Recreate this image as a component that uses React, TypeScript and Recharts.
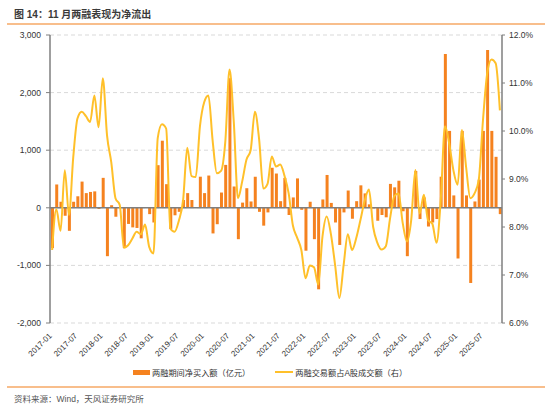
import {
  ComposedChart, Bar, Line, XAxis, YAxis, CartesianGrid, ReferenceLine,
} from 'recharts';

// Monthly categories 2017-01 .. 2025-11
const START_YEAR = 2017;
const MONTH_COUNT = 107;
const months: string[] = [];
for (let k = 0; k < MONTH_COUNT; k++) {
  const y = START_YEAR + Math.floor(k / 12);
  const m = (k % 12) + 1;
  months.push(`${y}-${m < 10 ? '0' + m : m}`);
}

// 两融期间净买入额（亿元）
const netBuy = [
  -700, 405, 105, -140, -400, 105, 200, 455, 255, 275, 285, -20,
  520, -840, 45, -155, 5, -700, -280, -340, -350, -530, 10, -110,
  -255, 740, 1165, 410, -370, -130, -70, 135, 255, 135, 5, 540,
  255, 560, -445, -285, 265, 745, 2250, 370, -545, 90, 340, 110,
  540, -70, -310, -80, 695, 595, 115, 520, -125, 180, 510, -35,
  -745, 105, -545, -1415, 145, 570, 85, -255, -645, -80, 300, -190,
  115, 390, 250, 60, -10, -225, -125, -165, 415, 355, 470, -60,
  -840, 10, 640, -195, 180, -325, -255, -195, 540, 2670, 1335, 215,
  -880, 1335, 215, -1305, 110, 490, 1335, 2740, 1335, 885, -110,
];

// 两融交易额占A股成交额（右, %）
const tradeShare = [
  7.52, 8.37, 7.92, 9.18, 8.25, 9.45, 10.26, 10.4, 10.31, 10.19, 10.74, 10.08,
  11.1, 9.91, 9.35, 8.6, 8.46, 7.57, 7.62, 7.76, 7.9, 7.85, 8.05, 7.58,
  7.45, 9.85, 10.14, 10.05, 7.97, 7.9, 8.13, 8.55, 9.65, 9.06, 9.04, 10.1,
  10.6, 10.74, 9.8, 9.12, 9.17, 9.78, 11.28, 10.2, 8.6, 8.95, 9.4, 9.6,
  10.4, 9.83, 8.8, 8.9, 9.47, 9.26, 9.3, 9.07, 8.7, 8.03, 7.78, 7.52,
  6.93, 7.2, 7.16, 6.8, 7.8, 8.22, 7.85, 7.2, 6.52, 7.2, 7.85, 7.52,
  7.77, 8.15, 8.55, 8.78, 8.0, 7.67, 7.53, 7.6, 8.18, 8.64, 8.7, 8.08,
  7.7, 8.14, 9.19, 8.28, 8.67, 8.14, 8.07, 7.67, 8.56, 10.1, 9.74, 9.18,
  8.88, 10.02, 9.25, 8.6, 8.7, 8.98, 10.23, 11.2, 11.49, 11.41, 10.43,
];

const leftTicks = [-2000, -1000, 0, 1000, 2000, 3000];
const rightTicks = [6, 7, 8, 9, 10, 11, 12];

const data = months.map((month, i) => ({
  month,
  net: netBuy[i],
  share: tradeShare[i],
}));

const BAR_COLOR = '#F5821F';
const LINE_COLOR = '#FFC02A';
const AXIS_COLOR = '#7f7f7f';
const TEXT_COLOR = '#333';
const RULE_COLOR = '#F8BE8C';
const FONT = "'Liberation Sans', 'Noto Sans CJK SC', sans-serif";

// eslint-disable-next-line @typescript-eslint/no-explicit-any
const MonthTick = ({ x, y, payload }: any) => (
  <g transform={`translate(${x - 4},${y + 1})`}>
    <text x={0} y={0} dy={6} textAnchor="end" transform="rotate(-45)"
      fontSize={8} fill={TEXT_COLOR}>
      {payload.value}
    </text>
  </g>
);

export default function App() {
  return (
    <div style={{
      position: 'absolute', left: 0, top: 0, width: 550, height: 406,
      background: '#fff', fontFamily: FONT, color: TEXT_COLOR,
    }}>
      <div style={{ position: 'absolute', left: 14, top: 6, fontSize: 10, fontWeight: 'bold', color: '#3a3a3a' }}>
        图 14：11 月两融表现为净流出
      </div>
      <div style={{ position: 'absolute', left: 7, top: 23, width: 538, height: 2, background: RULE_COLOR }} />

      <ComposedChart width={550} height={406} data={data}
        margin={{ top: 35, right: 0, left: 0, bottom: 43 }}>
        <CartesianGrid yAxisId="left" vertical={false} stroke="#d9d9d9" strokeDasharray="4 3" />
        <XAxis dataKey="month" interval={5} axisLine={false} tickLine={false}
          height={40} tickMargin={2} tick={<MonthTick />} />
        <YAxis yAxisId="left" domain={[-2000, 3000]} ticks={leftTicks} width={50}
          allowDataOverflow
          axisLine={{ stroke: AXIS_COLOR, strokeWidth: 1.5 }}
          tickLine={{ stroke: AXIS_COLOR }} tickSize={4} tickMargin={5}
          tick={{ fontSize: 8.5, fill: TEXT_COLOR }}
          tickFormatter={(v: number) => v.toLocaleString('en-US')} />
        <YAxis yAxisId="right" orientation="right" domain={[6, 12]} ticks={rightTicks} width={48}
          allowDataOverflow
          axisLine={{ stroke: AXIS_COLOR, strokeWidth: 1.5 }}
          tickLine={{ stroke: AXIS_COLOR }} tickSize={3} tickMargin={4}
          tick={{ fontSize: 8.5, fill: TEXT_COLOR, textAnchor: 'start' }}
          tickFormatter={(v: number) => v.toFixed(1) + '%'} />
        <Bar yAxisId="left" dataKey="net" fill={BAR_COLOR} barSize={3} isAnimationActive={false} />
        <ReferenceLine yAxisId="left" y={0} stroke={AXIS_COLOR} strokeWidth={1.5} />
        <Line yAxisId="right" type="monotone" dataKey="share" stroke={LINE_COLOR}
          strokeWidth={2} dot={false} isAnimationActive={false} />
      </ComposedChart>

      {/* legend */}
      <div style={{ position: 'absolute', left: 133, top: 366, display: 'flex', alignItems: 'center', fontSize: 8.2 }}>
        <span style={{ width: 17, height: 5, background: BAR_COLOR, marginRight: 2 }} />
        <span>两融期间净买入额（亿元）</span>
        <span style={{ width: 18, height: 2, background: LINE_COLOR, marginLeft: 25, marginRight: 2 }} />
        <span>两融交易额占A股成交额（右）</span>
      </div>

      <div style={{ position: 'absolute', left: 7, top: 386, width: 538, height: 1.5, background: RULE_COLOR }} />
      <div style={{ position: 'absolute', left: 14, top: 392, fontSize: 8.5, color: '#555' }}>
        资料来源：Wind，天风证券研究所
      </div>
    </div>
  );
}
